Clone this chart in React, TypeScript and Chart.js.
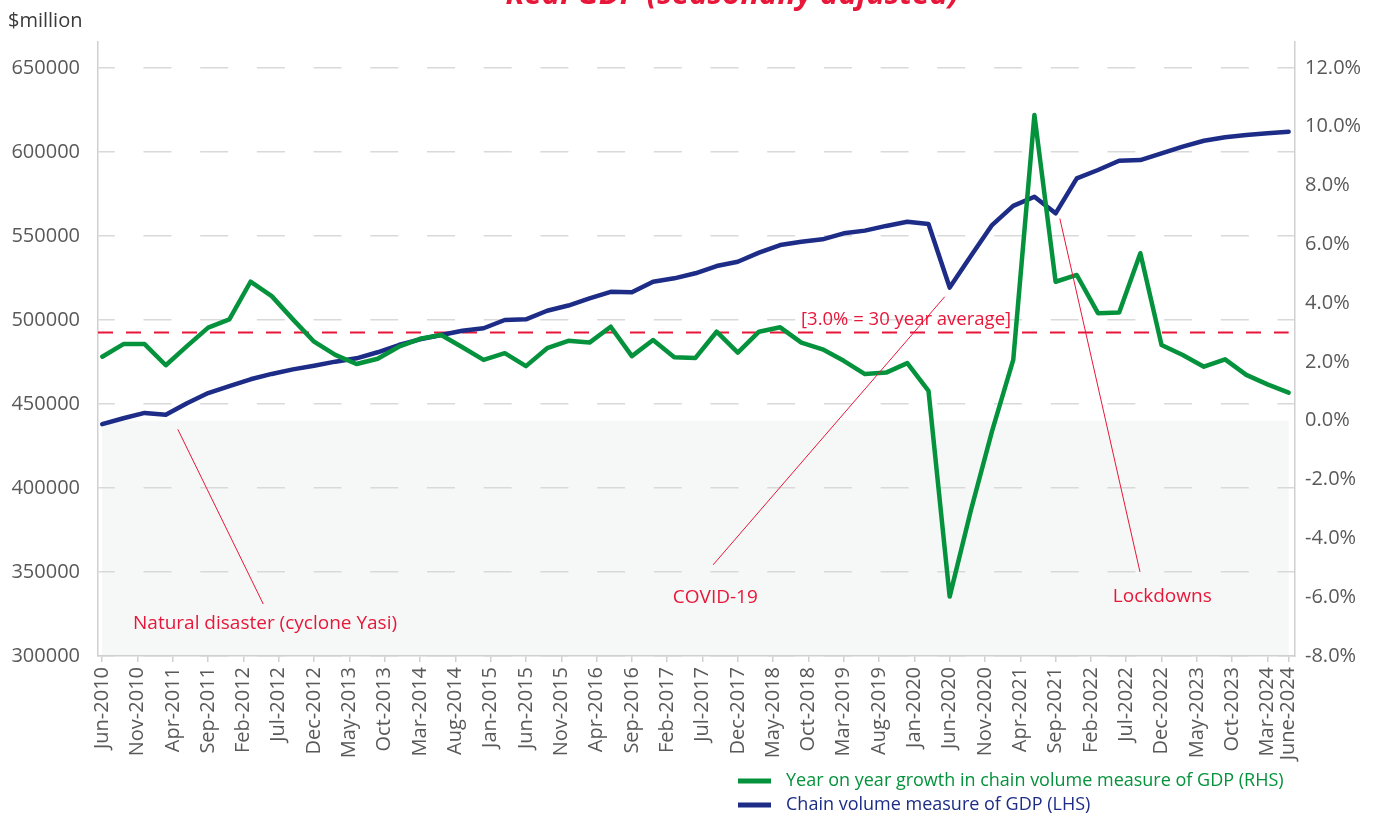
import React, { useEffect, useRef } from 'react';
import { Chart, registerables } from 'chart.js';

Chart.register(...registerables);

// ---------- data ----------
const TITLE = 'Real GDP (seasonally adjusted)';
const UNIT_LABEL = '$million';
const FIRST_PERIOD = 'Jun-2010';

const TICK_LABELS = [
  'Jun-2010', 'Nov-2010', 'Apr-2011', 'Sep-2011', 'Feb-2012', 'Jul-2012', 'Dec-2012',
  'May-2013', 'Oct-2013', 'Mar-2014', 'Aug-2014', 'Jan-2015', 'Jun-2015', 'Nov-2015',
  'Apr-2016', 'Sep-2016', 'Feb-2017', 'Jul-2017', 'Dec-2017', 'May-2018', 'Oct-2018',
  'Mar-2019', 'Aug-2019', 'Jan-2020', 'Jun-2020', 'Nov-2020', 'Apr-2021', 'Sep-2021',
  'Feb-2022', 'Jul-2022', 'Dec-2022', 'May-2023', 'Oct-2023', 'Mar-2024', 'June-2024',
];

// Chain volume measure of GDP ($million), quarterly from Jun-2010
const GDP = [
  438000, 441500, 444700, 443600, 450500, 456500, 460700, 464700, 467900, 470600,
  472800, 475200, 477200, 480800, 485100, 488500, 491100, 493600, 495100, 500000,
  500400, 505500, 508600, 512900, 516800, 516500, 522800, 524800, 527800, 532100,
  534700, 540100, 544600, 546600, 548000, 551600, 553200, 556000, 558500, 557100,
  519300, 538100, 556500, 567900, 573400, 563500, 584300, 589300, 594800, 595200,
  599200, 603200, 606700, 608800, 610100, 611100, 612100,
];

// Year on year growth (%), quarterly from Jun-2010
const GROWTH = [
  2.18, 2.61, 2.61, 1.89, 2.54, 3.17, 3.45, 4.73, 4.24, 3.45,
  2.69, 2.24, 1.93, 2.11, 2.52, 2.79, 2.92, 2.50, 2.07, 2.30,
  1.86, 2.47, 2.72, 2.66, 3.20, 2.20, 2.75, 2.16, 2.14, 3.03,
  2.32, 3.03, 3.18, 2.66, 2.43, 2.04, 1.59, 1.64, 1.96, 1.02,
  -5.98, -3.05, -0.35, 2.07, 10.40, 4.73, 4.96, 3.66, 3.68, 5.70,
  2.58, 2.24, 1.84, 2.09, 1.56, 1.24, 0.96,
];

const AVERAGE = 3.0;
const GDP_TICKS = [300000, 350000, 400000, 450000, 500000, 550000, 600000, 650000];
const GROWTH_TICKS = [-8, -6, -4, -2, 0, 2, 4, 6, 8, 10, 12];

const SERIES_NAMES = [
  'Year on year growth in chain volume measure of GDP (RHS)',
  'Chain volume measure of GDP (LHS)',
];
const AVERAGE_NAME = '[3.0% = 30 year average]';

// annotations anchored in data units: [month offset from Jun-2010, growth %]
const ANNOTATIONS = [
  { text: 'Natural disaster (cyclone Yasi)', from: [10.7, -0.29], to: [22.8, -6.23], label: [4.36, -6.91] },
  { text: 'COVID-19', from: [119.3, 4.22], to: [86.5, -4.9], label: [80.8, -6.03] },
  { text: 'Lockdowns', from: [135.6, 6.88], to: [146.95, -5.14], label: [143.1, -5.99] },
];
const AVERAGE_LABEL_AT = [98.95, 3.43];

// ---------- helpers ----------
const MONTHS = ['Jan', 'Feb', 'Mar', 'Apr', 'May', 'Jun', 'Jul', 'Aug', 'Sep', 'Oct', 'Nov', 'Dec'];
const monthOffset = (label: string) => {
  const [m, y] = label.split('-');
  return (Number(y) - 2010) * 12 + MONTHS.indexOf(m.slice(0, 3)) - 5;
};
const START = monthOffset(FIRST_PERIOD);
const LAST_TICK = monthOffset(TICK_LABELS[TICK_LABELS.length - 1]);
const TICK_MAP = new Map<number, string>(TICK_LABELS.map((l) => [monthOffset(l), l]));

const RED = '#e8173a';
const GREEN = '#05923c';
const BLUE = '#1d2c86';
const GRAY_TEXT = '#595959';
const FONT = 'Open Sans';

const decorPlugin = {
  id: 'decor',
  beforeDraw(chart: any) {
    const { ctx, scales } = chart;
    const x = scales.x;
    const y1 = scales.y1;
    const left = x.getPixelForValue(START);
    const right = x.getPixelForValue(LAST_TICK);
    const top = y1.getPixelForValue(0);
    const bottom = y1.getPixelForValue(GROWTH_TICKS[0]);
    ctx.save();
    ctx.fillStyle = '#f5f8f7';
    ctx.fillRect(left, top, right - left, bottom - top);
    ctx.restore();
  },
  afterDraw(chart: any) {
    const { ctx, scales } = chart;
    const x = scales.x;
    const y1 = scales.y1;
    ctx.save();
    // title (cut off at the top)
    ctx.fillStyle = RED;
    ctx.font = `italic 700 31px "${FONT}"`;
    ctx.textAlign = 'center';
    ctx.textBaseline = 'alphabetic';
    ctx.fillText(TITLE, 732, 3.5);
    // unit label
    ctx.fillStyle = '#3a3a3a';
    ctx.font = `20px "${FONT}"`;
    ctx.textAlign = 'left';
    ctx.fillText(UNIT_LABEL, 8, 27);
    // annotations
    ctx.strokeStyle = RED;
    ctx.lineWidth = 1;
    ctx.fillStyle = RED;
    ctx.font = `19px "${FONT}"`;
    ctx.textBaseline = 'middle';
    for (const a of ANNOTATIONS) {
      ctx.beginPath();
      ctx.moveTo(x.getPixelForValue(a.from[0]), y1.getPixelForValue(a.from[1]));
      ctx.lineTo(x.getPixelForValue(a.to[0]), y1.getPixelForValue(a.to[1]));
      ctx.stroke();
      ctx.fillText(a.text, x.getPixelForValue(a.label[0]), y1.getPixelForValue(a.label[1]));
    }
    ctx.font = `18.5px "${FONT}"`;
    ctx.fillText(AVERAGE_NAME, x.getPixelForValue(AVERAGE_LABEL_AT[0]), y1.getPixelForValue(AVERAGE_LABEL_AT[1]));
    // legend
    const items = chart.data.datasets.filter((d: any) => SERIES_NAMES.includes(d.label));
    ctx.font = `18px "${FONT}"`;
    items.forEach((d: any, i: number) => {
      const yy = 781 + i * 24;
      ctx.strokeStyle = d.borderColor;
      ctx.lineWidth = 5;
      ctx.beginPath();
      ctx.moveTo(738, yy);
      ctx.lineTo(771, yy);
      ctx.stroke();
      ctx.fillStyle = d.borderColor;
      ctx.fillText(d.label, 786, yy);
    });
    ctx.restore();
  },
};

export default function App() {
  const ref = useRef<HTMLCanvasElement | null>(null);

  useEffect(() => {
    if (!ref.current) return;
    Chart.defaults.font.family = FONT;
    const growthPts = GROWTH.map((v, i) => ({ x: START + 3 * i, y: v }));
    const gdpPts = GDP.map((v, i) => ({ x: START + 3 * i, y: v }));
    const avgPts = [
      { x: START - 0.6, y: AVERAGE },
      { x: LAST_TICK, y: AVERAGE },
    ];
    const chart = new Chart(ref.current, {
      type: 'line',
      data: {
        datasets: [
          {
            label: SERIES_NAMES[0],
            data: growthPts,
            yAxisID: 'y1',
            borderColor: GREEN,
            borderWidth: 4.5,
            pointRadius: 0,
            borderJoinStyle: 'round',
            borderCapStyle: 'round',
            order: 0,
          },
          {
            label: SERIES_NAMES[1],
            data: gdpPts,
            yAxisID: 'y',
            borderColor: BLUE,
            borderWidth: 4.5,
            pointRadius: 0,
            borderJoinStyle: 'round',
            borderCapStyle: 'round',
            order: 1,
          },
          {
            label: AVERAGE_NAME,
            data: avgPts,
            yAxisID: 'y1',
            borderColor: RED,
            borderWidth: 2,
            borderDash: [15, 13],
            pointRadius: 0,
            order: 2,
          },
        ],
      },
      options: {
        responsive: false,
        animation: false,
        devicePixelRatio: 1,
        layout: { padding: { top: 42, left: 0, right: 0, bottom: 0 } },
        plugins: { legend: { display: false }, tooltip: { enabled: false }, title: { display: false } },
        scales: {
          x: {
            type: 'linear',
            min: -0.6,
            max: 168.9,
            afterBuildTicks: (scale: any) => {
              scale.ticks = TICK_LABELS.map((l) => ({ value: monthOffset(l) }));
            },
            afterFit: (scale: any) => {
              scale.height = 165;
            },
            ticks: {
              autoSkip: false,
              minRotation: 90,
              maxRotation: 90,
              padding: 5,
              color: GRAY_TEXT,
              font: { size: 20, family: FONT },
              callback: (v: any) => TICK_MAP.get(Number(v)) ?? '',
            },
            grid: { drawOnChartArea: false, drawTicks: true, tickLength: 6, color: '#d0d0d0', lineWidth: 1.5 },
            border: { display: true, color: '#d0d0d0', width: 1.5 },
          },
          y: {
            type: 'linear',
            position: 'left',
            min: GDP_TICKS[0],
            max: 665476,
            afterBuildTicks: (scale: any) => {
              scale.ticks = GDP_TICKS.map((v) => ({ value: v }));
            },
            afterFit: (scale: any) => {
              scale.width = 98;
            },
            ticks: {
              padding: 18,
              color: GRAY_TEXT,
              font: { size: 20, family: FONT },
              callback: (v: any) => String(v),
            },
            grid: { drawTicks: false, color: '#d9d9d9', lineWidth: 1.5 },
            border: { display: true, color: '#d0d0d0', width: 1.5, dash: [28, 28.7], dashOffset: 11.7 },
          },
          y1: {
            type: 'linear',
            position: 'right',
            min: GROWTH_TICKS[0],
            max: 12.884,
            afterBuildTicks: (scale: any) => {
              scale.ticks = GROWTH_TICKS.map((v) => ({ value: v }));
            },
            afterFit: (scale: any) => {
              scale.width = 90;
            },
            ticks: {
              padding: 10,
              color: GRAY_TEXT,
              font: { size: 20, family: FONT },
              callback: (v: any) => `${Number(v).toFixed(1)}%`,
            },
            grid: { drawOnChartArea: false, drawTicks: false },
            border: { display: true, color: '#d0d0d0', width: 1.5 },
          },
        },
      },
      plugins: [decorPlugin],
    } as any);
    return () => chart.destroy();
  }, []);

  return (
    <div style={{ position: 'fixed', left: 0, top: 0, width: 1385, height: 821, background: '#fff' }}>
      <canvas ref={ref} width={1385} height={821} style={{ display: 'block', width: 1385, height: 821 }} />
    </div>
  );
}
